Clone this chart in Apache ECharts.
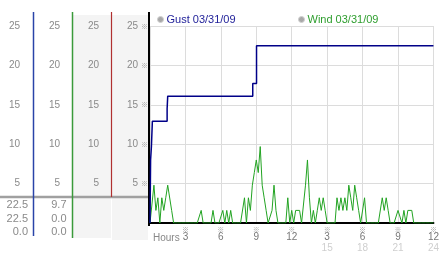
<!DOCTYPE html>
<html><head><meta charset="utf-8">
<script src="https://cdn.jsdelivr.net/npm/echarts@6/dist/echarts.min.js"></script>
<style>html,body{margin:0;padding:0;background:#fff}#c{width:442px;height:253px}</style>
</head><body><div id="c"></div>
<script>
const gustName = 'Gust 03/31/09';
const windName = 'Wind 03/31/09';
const gustHours  = [0, 0.05, 0.12, 0.2, 1.45, 1.5, 8.7, 9.02, 24];
const gustValues = [0, 8.0, 9.7, 12.9, 14.5, 16.1, 17.7, 22.5, 22.5];
const windStepHours = 1 / 6;
const windValues = [
  0,0,4.8,1.6,3.2,0,3.2,1.6,3.2,4.8,4.8,1.6,
  0,0,0,0,0,0,0,0,0,0,0,0,0,0,
  1.6,0,0,0,0,0,1.6,0,0,0,0,1.6,0,1.6,0,1.6,
  0,0,0,0,0,0,
  3.2,0,3.2,1.6,4.8,6.4,8.0,6.4,9.7,4.8,3.2,1.6,0,0,1.6,4.8,1.6,
  0,0,0,0,0,
  3.2,0,1.6,0,1.6,1.6,1.6,0,0,4.8,8.0,3.2,0,1.6,0,1.6,3.2,1.6,3.2,1.6,
  0,0,0,0,0,
  3.2,1.6,3.2,1.6,3.2,1.6,4.8,3.2,1.6,4.8,3.2,1.6,0,0,3.2,
  0,0,0,0,0,0,0,0,
  3.2,1.6,3.2,1.6,0,0,0,0,
  1.6,1.6,0,1.6,0,1.6,1.6,1.6,
  0,0,0,0,0,0,0,0,0,0,0
];
const yMin = 0, yMax = 25, yStep = 5;
const xMin = 0, xMax = 24, xStep = 3;

const gustData = gustHours.map((h, i) => [h, gustValues[i]]);
const windData = windValues.map((v, i) => [i * windStepHours, v]);

function stats(vals) {
  return [Math.max(...vals), vals[vals.length - 1], Math.min(...vals)].map(v => v.toFixed(1));
}
const gustStats = stats(gustValues);
const windStats = stats(windValues);

const FF = 'Liberation Sans, Arial, sans-serif';
const labelGray = '#8a8a8a';

function colAxis(margin) {
  return {
    type: 'value', min: yMin, max: yMax, interval: yStep, position: 'left',
    axisLine: {show: false}, axisTick: {show: false}, splitLine: {show: false},
    axisLabel: {margin: margin, color: labelGray, fontSize: 10, fontFamily: FF, showMinLabel: false}
  };
}

const graphics = [
  {type: 'rect', shape: {x: 73, y: 15, width: 38, height: 223}, style: {fill: '#f4f4f4'}},
  {type: 'rect', shape: {x: 112, y: 15, width: 36, height: 225}, style: {fill: '#f4f4f4'}},
  {type: 'line', shape: {x1: 0, y1: 197, x2: 149, y2: 197}, style: {stroke: '#a0a0a0', lineWidth: 2.5}},
  {type: 'line', shape: {x1: 33.5, y1: 12, x2: 33.5, y2: 236}, style: {stroke: '#2a44a8', lineWidth: 1.5}},
  {type: 'line', shape: {x1: 72.5, y1: 12, x2: 72.5, y2: 238}, style: {stroke: '#3a9a3a', lineWidth: 1.5}},
  {type: 'line', shape: {x1: 111.5, y1: 12, x2: 111.5, y2: 197}, style: {stroke: '#b03030', lineWidth: 1.2}},
  {type: 'line', shape: {x1: 149, y1: 12, x2: 149, y2: 226}, style: {stroke: '#000', lineWidth: 2}},
  {type: 'text', x: 153, y: 238, style: {text: 'Hours', fill: '#888', font: '10px ' + FF, verticalAlign: 'middle'}}
];
const rowsY = [205, 219, 232];
gustStats.forEach((s, i) => graphics.push({type: 'text', x: 28, y: rowsY[i],
  style: {text: s, fill: labelGray, font: '11px ' + FF, align: 'right', verticalAlign: 'middle'}}));
windStats.forEach((s, i) => graphics.push({type: 'text', x: 66.5, y: rowsY[i],
  style: {text: s, fill: labelGray, font: '11px ' + FF, align: 'right', verticalAlign: 'middle'}}));

const chart = echarts.init(document.getElementById('c'));
chart.setOption({
  animation: false,
  backgroundColor: '#fff',
  graphic: graphics,
  legend: [
    {data: [gustName], left: 157, top: 14, padding: 0, itemWidth: 6, itemHeight: 6, icon: 'circle',
     selectedMode: false, itemStyle: {color: '#a8a8a8', borderColor: '#d0d0d0', borderWidth: 1},
     textStyle: {color: '#22229a', fontSize: 11, fontFamily: FF, padding: [0, 0, 0, -2]}},
    {data: [windName], left: 298, top: 14, padding: 0, itemWidth: 6, itemHeight: 6, icon: 'circle',
     selectedMode: false, itemStyle: {color: '#a8a8a8', borderColor: '#d0d0d0', borderWidth: 1},
     textStyle: {color: '#2e9e2e', fontSize: 11, fontFamily: FF, padding: [0, 0, 0, -2]}}
  ],
  grid: {left: 150, right: 4, top: 26, bottom: 27},
  xAxis: {
    type: 'value', min: xMin, max: xMax, interval: xStep,
    axisLine: {lineStyle: {color: '#000', width: 2}},
    axisTick: {show: false},
    splitLine: {lineStyle: {color: '#dcdcdc', width: 1}},
    axisLabel: {
      margin: 3, showMinLabel: false,
      formatter: function (v) {
        if (v === 0) return '';
        const h = v > 12 ? v - 12 : v;
        let s = '{m|※}\n{a|' + h + '}';
        if (v > 12) s += '\n{b|' + v + '}';
        return s;
      },
      rich: {
        m: {fontSize: 7, lineHeight: 6, color: '#999', fontFamily: 'Noto Sans CJK JP'},
        a: {fontSize: 10, lineHeight: 10, color: '#777', fontFamily: FF},
        b: {fontSize: 10, lineHeight: 12, color: '#cfcfcf', fontFamily: FF}
      }
    }
  },
  yAxis: [
    {type: 'value', min: yMin, max: yMax, interval: yStep,
     axisLine: {show: false}, axisTick: {show: false},
     splitLine: {lineStyle: {color: '#dcdcdc', width: 1}},
     axisLabel: {formatter: () => '※', fontSize: 7, color: '#999', margin: 2, showMinLabel: false,
                 fontFamily: 'Noto Sans CJK JP'}},
    colAxis(12), colAxis(51), colAxis(90), colAxis(130)
  ],
  series: [
    {type: 'line', name: windName, data: windData, symbol: 'none', z: 2,
     lineStyle: {color: '#22a322', width: 1}, itemStyle: {color: '#22a322'}},
    {type: 'line', name: gustName, data: gustData, step: 'end', symbol: 'none', z: 3,
     lineStyle: {color: '#000088', width: 1.5}, itemStyle: {color: '#000088'}}
  ]
});
</script>
</body></html>
